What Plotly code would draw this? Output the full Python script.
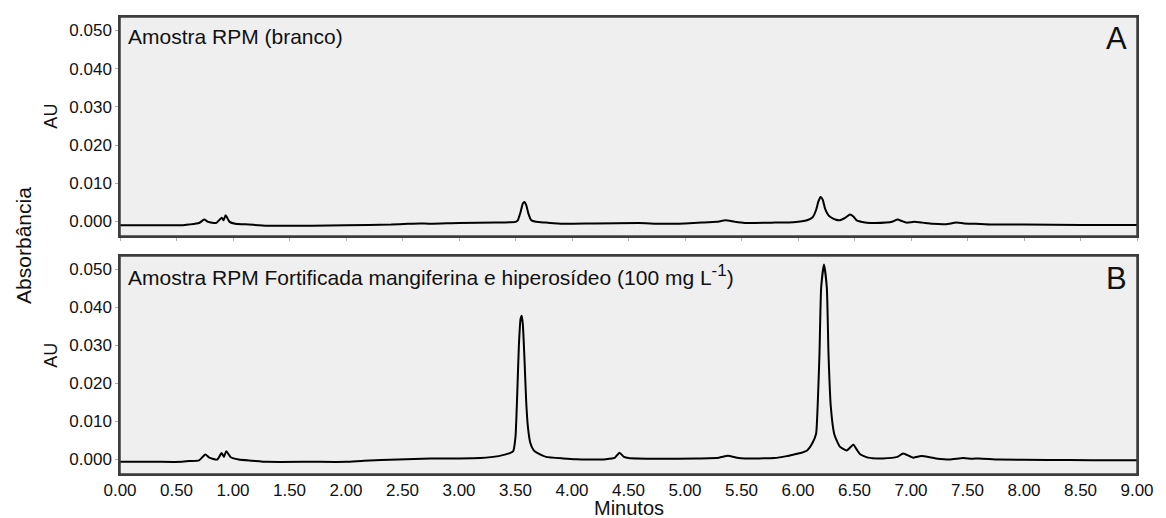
import plotly.graph_objects as go

# ---------------- data ----------------
t_a = [0.00, 0.30, 0.55, 0.61, 0.70, 0.745, 0.78, 0.85, 0.90, 0.915, 0.935, 0.97, 1.02, 1.14, 1.30,
       1.70, 2.00, 2.40, 2.55, 2.65, 2.75, 3.00, 3.33, 3.50, 3.52, 3.545, 3.565, 3.58, 3.595, 3.615,
       3.64, 3.68, 3.77, 3.92, 4.20, 4.59, 4.79, 5.00, 5.15, 5.28, 5.36, 5.44, 5.53, 5.80, 5.96,
       6.08, 6.13, 6.16, 6.18, 6.20, 6.22, 6.24, 6.27, 6.29, 6.33, 6.37, 6.42, 6.46, 6.49, 6.52,
       6.58, 6.64, 6.78, 6.84, 6.88, 6.92, 6.96, 7.03, 7.10, 7.19, 7.31, 7.40, 7.47, 7.57, 7.72,
       8.00, 8.50, 9.00]
au_a = [-0.0010, -0.0010, -0.0010, -0.0008, -0.0004, 0.0005, -0.0001, -0.0004, 0.0010, 0.0003, 0.0016,
        -0.0001, -0.0006, -0.0008, -0.0011, -0.0011, -0.0010, -0.0008, -0.0006, -0.0005, -0.0006,
        -0.0004, -0.0003, -0.0001, 0.0003, 0.0025, 0.0047, 0.0051, 0.0043, 0.0020, 0.0003, -0.0001,
        -0.0003, -0.0006, -0.0005, -0.0004, -0.0006, -0.0005, -0.0003, -0.0001, 0.0003, -0.0001,
        -0.0004, -0.0003, -0.0002, 0.0003, 0.0011, 0.0030, 0.0052, 0.0064, 0.0056, 0.0033, 0.0016,
        0.0011, 0.0005, 0.0003, 0.0010, 0.0018, 0.0013, 0.0003, -0.0002, -0.0004, -0.0003, 0.0000,
        0.0005, 0.0001, -0.0003, -0.0001, -0.0003, -0.0006, -0.0007, -0.0003, -0.0005, -0.0006,
        -0.0008, -0.0008, -0.0009, -0.0009]

t_b = [0.00, 0.30, 0.55, 0.61, 0.70, 0.755, 0.79, 0.86, 0.90, 0.92, 0.94, 0.98, 1.05, 1.17, 1.30,
       1.70, 2.00, 2.16, 2.46, 2.75, 3.00, 3.19, 3.35, 3.45, 3.48, 3.50, 3.515, 3.53, 3.545, 3.555,
       3.565, 3.58, 3.595, 3.61, 3.63, 3.66, 3.70, 3.77, 3.92, 4.04, 4.30, 4.38, 4.42, 4.46, 4.50,
       4.77, 5.10, 5.30, 5.38, 5.46, 5.53, 5.79, 5.90, 5.96, 6.03, 6.08, 6.13, 6.16, 6.175, 6.19,
       6.205, 6.23, 6.255, 6.27, 6.29, 6.32, 6.35, 6.37, 6.43, 6.49, 6.52, 6.55, 6.62, 6.75, 6.88,
       6.93, 7.02, 7.09, 7.22, 7.34, 7.46, 7.54, 7.60, 7.78, 8.20, 8.60, 9.00]
au_b = [-0.0006, -0.0006, -0.0006, -0.0004, -0.0002, 0.0013, 0.0005, 0.0000, 0.0017, 0.0007, 0.0022,
        0.0006, 0.0000, -0.0003, -0.0006, -0.0006, -0.0006, -0.0003, 0.0000, 0.0003, 0.0003, 0.0004,
        0.0009, 0.0017, 0.0022, 0.0060, 0.0170, 0.0300, 0.0370, 0.0378, 0.0355, 0.0260, 0.0150,
        0.0085, 0.0045, 0.0025, 0.0016, 0.0007, 0.0003, 0.0001, 0.0001, 0.0005, 0.0018, 0.0007,
        0.0004, 0.0002, 0.0003, 0.0005, 0.0010, 0.0005, 0.0003, 0.0004, 0.0009, 0.0013, 0.0018,
        0.0024, 0.0045, 0.0068, 0.0150, 0.0277, 0.0452, 0.0513, 0.0452, 0.0277, 0.0140, 0.0068,
        0.0045, 0.0034, 0.0024, 0.0039, 0.0026, 0.0014, 0.0005, 0.0003, 0.0007, 0.0016, 0.0005,
        0.0009, 0.0003, 0.0000, 0.0004, 0.0002, 0.0003, 0.0000, -0.0001, -0.0002, -0.0002]

x_ticks = [0.0, 0.5, 1.0, 1.5, 2.0, 2.5, 3.0, 3.5, 4.0, 4.5, 5.0, 5.5, 6.0, 6.5, 7.0, 7.5, 8.0, 8.5, 9.0]
y_ticks = [0.000, 0.010, 0.020, 0.030, 0.040, 0.050]

title_a = "Amostra RPM (branco)"
title_b = ("Amostra RPM Fortificada mangiferina e hiperosídeo (100 mg L"
           "<sup><span style='font-size:17px'>-1</span></sup>)")

# ---------------- figure ----------------
FONT = "Liberation Sans, Arial, Helvetica, sans-serif"
TXT = "#111111"
FRAME = "#3c3c3c"
BG = "#efefef"
DOM_A = [0.5208, 1.0]
DOM_B = [0.0, 0.4770]

fig = go.Figure()
line_style = dict(color="#000000", width=2, shape="spline", smoothing=0.5)
fig.add_trace(go.Scatter(x=t_a, y=au_a, mode="lines", line=line_style, xaxis="x", yaxis="y",
                         hoverinfo="x+y", showlegend=False))
fig.add_trace(go.Scatter(x=t_b, y=au_b, mode="lines", line=line_style, xaxis="x2", yaxis="y2",
                         hoverinfo="x+y", showlegend=False))

tickfont = dict(family=FONT, size=17, color=TXT)
frame = dict(showgrid=False, zeroline=False, showline=True, mirror=True, linecolor=FRAME,
             linewidth=1.5, tickcolor="#b0b0b0")
common_y = dict(range=[-0.0038, 0.0535], tickvals=y_ticks, tickformat=".3f", ticks="outside",
                ticklen=3, tickfont=tickfont, **frame)

fig.update_layout(
    width=1166, height=518,
    margin=dict(l=120, r=20, t=17, b=44),
    paper_bgcolor="white", plot_bgcolor=BG,
    # panel A (top)
    xaxis=dict(range=[0, 9], tickvals=x_ticks, ticks="outside", ticklen=3, showticklabels=False,
               domain=[0, 1], anchor="y", matches="x2", **frame),
    yaxis=dict(**common_y, domain=DOM_A, anchor="x"),
    # panel B (bottom) carries the time labels
    xaxis2=dict(range=[0, 9], tickvals=x_ticks, tickformat=".2f", ticks="", tickfont=tickfont,
                domain=[0, 1], anchor="y2", **frame),
    yaxis2=dict(**common_y, domain=DOM_B, anchor="x2"),
    shapes=[
        dict(type="rect", xref="paper", yref="paper", x0=0, x1=1, y0=DOM_A[0], y1=DOM_A[1],
             line=dict(color=FRAME, width=1.5), fillcolor="rgba(0,0,0,0)", layer="above"),
        dict(type="rect", xref="paper", yref="paper", x0=0, x1=1, y0=DOM_B[0], y1=DOM_B[1],
             line=dict(color=FRAME, width=1.5), fillcolor="rgba(0,0,0,0)", layer="above"),
    ],
)

ann = []
f21 = dict(family=FONT, size=21, color=TXT)
ann.append(dict(text=title_a, x=0.0058, y=0.958, xref="paper", yref="paper", xanchor="left",
                yanchor="middle", showarrow=False, font=f21))
ann.append(dict(text=title_b, x=0.0058, y=0.435, xref="paper", yref="paper", xanchor="left",
                yanchor="middle", showarrow=False, font=f21))
ann.append(dict(text="A", x=0.9922, y=0.952, xref="paper", yref="paper", xanchor="right",
                yanchor="middle", showarrow=False, font=dict(family=FONT, size=31, color=TXT)))
ann.append(dict(text="B", x=0.9922, y=0.4267, xref="paper", yref="paper", xanchor="right",
                yanchor="middle", showarrow=False, font=dict(family=FONT, size=31, color=TXT)))
ann.append(dict(text="AU", x=-0.0682, y=0.7834, xref="paper", yref="paper", xanchor="center",
                yanchor="middle", textangle=-90, showarrow=False,
                font=dict(family=FONT, size=18, color=TXT)))
ann.append(dict(text="AU", x=-0.0682, y=0.2604, xref="paper", yref="paper", xanchor="center",
                yanchor="middle", textangle=-90, showarrow=False,
                font=dict(family=FONT, size=18, color=TXT)))
ann.append(dict(text="Absorbância", x=-0.0945, y=0.5011, xref="paper", yref="paper",
                xanchor="center", yanchor="middle", textangle=-90, showarrow=False,
                font=dict(family=FONT, size=21, color=TXT)))
ann.append(dict(text="Minutos", x=0.5, y=-0.074, xref="paper", yref="paper", xanchor="center",
                yanchor="middle", showarrow=False, font=dict(family=FONT, size=20, color=TXT)))
fig.update_layout(annotations=ann)

fig.write_html("out.html")
